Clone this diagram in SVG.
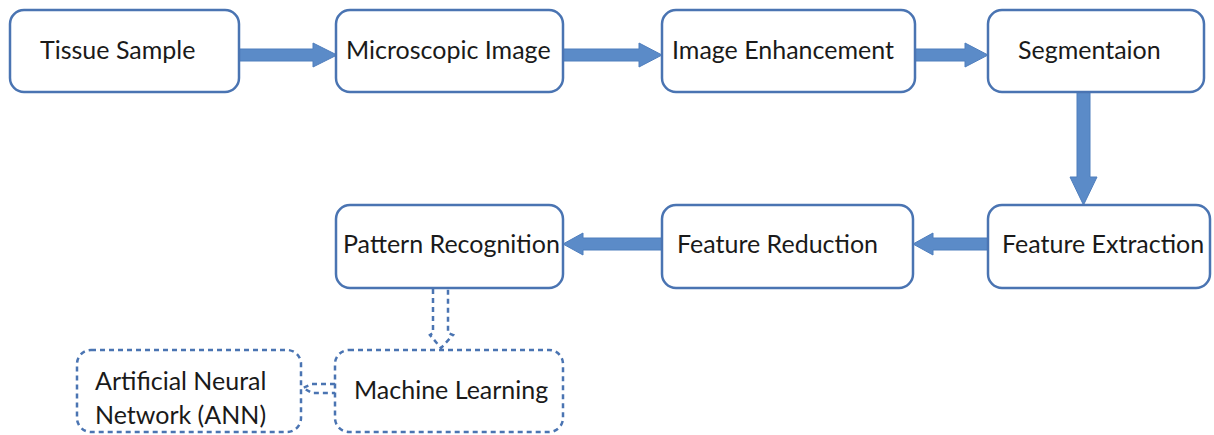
<svg xmlns="http://www.w3.org/2000/svg" width="1214" height="435" viewBox="0 0 1214 435">
<style>
.box{fill:#fff;stroke:#4a74b2;stroke-width:2.5}
.dbox{fill:#fff;stroke:#4a74b2;stroke-width:2.5;stroke-dasharray:5 4}
.arr{fill:#5b8bc8;stroke:#4f7ebd;stroke-width:1}
.darr{fill:none;stroke:#4a74b2;stroke-width:2.5;stroke-dasharray:5 4}
text{font-family:Lato,"Liberation Sans",sans-serif;font-size:25px;fill:#1a1a1a}
</style>
<rect width="1214" height="435" fill="#fff"/>
<g id="connectors">
<path class="arr" d="M239,49 H313 V43 L337,55 L313,67 V61 H239 Z"/>
<path class="arr" d="M563,49 H639 V43 L662,55 L639,67 V61 H563 Z"/>
<path class="arr" d="M915,49 H965 V43 L988,55 L965,67 V61 H915 Z"/>
<path class="arr" d="M1077,92 V177 H1070 L1083.5,205 L1097,177 H1090 V92 Z"/>
<path class="arr" d="M988,238 H933 V233 L913,244 L933,255 V250 H988 Z"/>
<path class="arr" d="M662,238 H583 V233 L563,244 L583,255 V250 H662 Z"/>
<path class="darr" d="M433,289 V333 L430,335 L441,348 L453,335 L448,333 V289"/>
<path class="darr" d="M335,384 H312 L303,388 L312,393 H335"/>
</g>
<g id="tissue"><rect class="box" x="10" y="10" width="229" height="82" rx="14"/><text x="40" y="59">Tissue Sample</text></g>
<g id="micro"><rect class="box" x="336" y="10" width="227" height="82" rx="14"/><text x="346" y="59">Microscopic Image</text></g>
<g id="enh"><rect class="box" x="662" y="10" width="253" height="82" rx="14"/><text x="672" y="59">Image Enhancement</text></g>
<g id="seg"><rect class="box" x="988" y="10" width="216" height="82" rx="14"/><text x="1018" y="59">Segmentaion</text></g>
<g id="pattern"><rect class="box" x="336" y="205" width="227" height="83" rx="14"/><text x="343" y="253">Pattern Recognition</text></g>
<g id="reduction"><rect class="box" x="662" y="205" width="251" height="83" rx="14"/><text x="677" y="253">Feature Reduction</text></g>
<g id="extraction"><rect class="box" x="988" y="205" width="222" height="83" rx="14"/><text x="1002" y="253">Feature Extraction</text></g>
<g id="ml"><rect class="dbox" x="335" y="350" width="228" height="82" rx="14"/><text x="354" y="399">Machine Learning</text></g>
<g id="ann"><rect class="dbox" x="77" y="350" width="224" height="82" rx="14"/><text x="95" y="390">Artificial Neural</text><text x="95" y="424">Network (ANN)</text></g>
</svg>
